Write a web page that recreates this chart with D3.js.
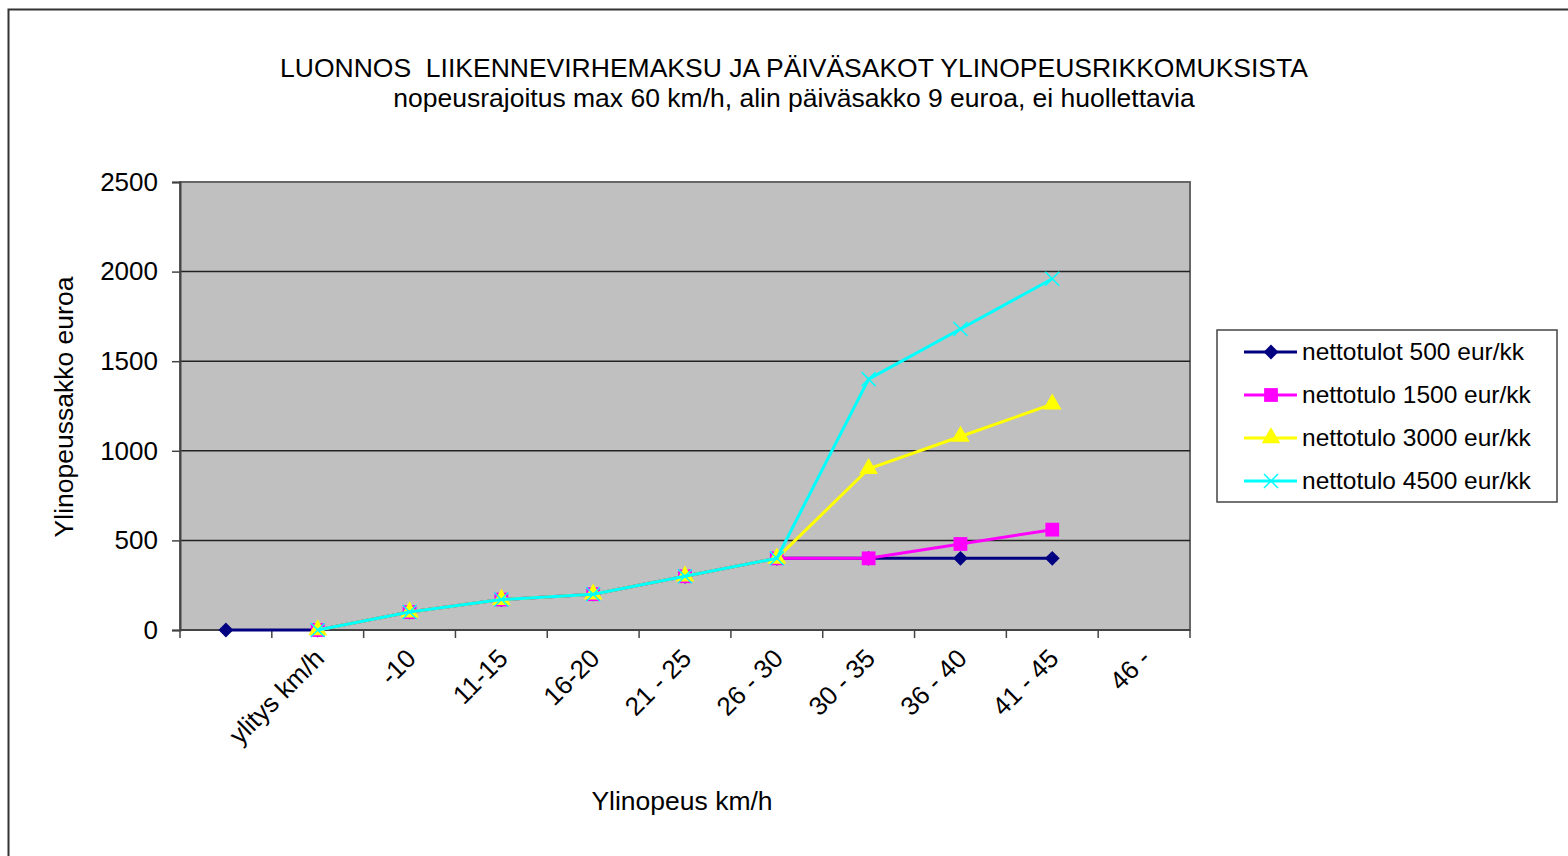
<!DOCTYPE html>
<html lang="en">
<head>
  <meta charset="utf-8">
  <title>Ylinopeussakot</title>
  <style>
    html, body { margin: 0; padding: 0; background: #ffffff; }
    svg { display: block; font-family: "Liberation Sans", Arial, sans-serif; }
  </style>
</head>
<body>
  <div id="chart"></div>

<script src="https://cdn.jsdelivr.net/npm/d3@7"></script>
<script>

  ////////////////////////////////////////////////// DATA

  var categories = ["", "ylitys km/h", "-10", "11-15", "16-20", "21 - 25", "26 - 30", "30 - 35", "36 - 40", "41 - 45", "46 -"];

  var seriesNames = ["nettotulot 500 eur/kk", "nettotulo 1500 eur/kk", "nettotulo 3000 eur/kk", "nettotulo 4500 eur/kk"];

  var tulot500  = [0,    0, 100, 170, 200, 300, 400, 400,  400,  400, null];
  var tulo1500  = [null, 0, 100, 170, 200, 300, 400, 400,  480,  560, null];
  var tulo3000  = [null, 0, 100, 170, 200, 300, 400, 900,  1080, 1260, null];
  var tulo4500  = [null, 0, 100, 170, 200, 300, 400, 1400, 1680, 1960, null];

  var yTicks = [0, 500, 1000, 1500, 2000, 2500];

  var seriesValues = [tulot500, tulo1500, tulo3000, tulo4500];
  var seriesColors = ["#000080", "#ff00ff", "#ffff00", "#00ffff"];
  var seriesMarkers = ["diamond", "square", "triangle", "cross"];

  ////////////////////////////////////////////////// SETUP

  var width = 1568, height = 856;
  var plot = {left: 180, top: 182, right: 1190, bottom: 630};

  var svg = d3.select("#chart").append("svg")
              .attr("width", width)
              .attr("height", height);

  // outer chart frame (runs off the right and bottom edge)
  svg.append("rect")
     .attr("x", 8.5).attr("y", 9.5)
     .attr("width", width + 20).attr("height", height + 20)
     .attr("fill", "#fff")
     .attr("stroke", "#333").attr("stroke-width", 2);

  var x = d3.scaleBand()
            .domain(d3.range(categories.length))
            .range([plot.left, plot.right]);

  var y = d3.scaleLinear()
            .domain([0, 2500])
            .range([plot.bottom, plot.top]);

  // plot background
  svg.append("rect")
     .attr("x", plot.left).attr("y", plot.top)
     .attr("width", plot.right - plot.left)
     .attr("height", plot.bottom - plot.top)
     .attr("fill", "#c0c0c0")
     .attr("stroke", "#666").attr("stroke-width", 2);

  // gridlines
  svg.append("g")
     .selectAll("line")
     .data(yTicks.slice(1, -1))
     .enter().append("line")
     .attr("x1", plot.left).attr("x2", plot.right)
     .attr("y1", function(d){ return y(d); })
     .attr("y2", function(d){ return y(d); })
     .attr("stroke", "#222").attr("stroke-width", 1.5);

  // y axis
  var yAxis = svg.append("g")
     .attr("transform", "translate(" + plot.left + ",0)")
     .call(d3.axisLeft(y).tickValues(yTicks).tickFormat(d3.format("d")).tickSize(8).tickPadding(14));
  yAxis.select(".domain").attr("stroke", "#444").attr("stroke-width", 2);
  yAxis.selectAll(".tick line").attr("stroke", "#444").attr("stroke-width", 1.5);
  yAxis.selectAll(".tick text")
       .attr("font-size", 26).attr("fill", "#000")
       .attr("font-family", "Liberation Sans, Arial, sans-serif");

  // x axis: ticks at band boundaries
  var xBounds = d3.range(categories.length + 1).map(function(i){
    return plot.left + i * x.step();
  });
  var xAxis = svg.append("g");
  xAxis.append("line")
       .attr("x1", plot.left).attr("x2", plot.right)
       .attr("y1", plot.bottom).attr("y2", plot.bottom)
       .attr("stroke", "#444").attr("stroke-width", 2);
  xAxis.selectAll(".xt")
       .data(xBounds)
       .enter().append("line")
       .attr("class", "xt")
       .attr("x1", function(d){ return d; }).attr("x2", function(d){ return d; })
       .attr("y1", plot.bottom).attr("y2", plot.bottom + 8)
       .attr("stroke", "#444").attr("stroke-width", 1.5);

  xAxis.selectAll(".xl")
       .data(categories)
       .enter().append("text")
       .attr("class", "xl")
       .attr("font-size", 26)
       .attr("text-anchor", "end")
       .attr("transform", function(d, i){
         var cx = x(i) + x.bandwidth() / 2 + 8;
         return "translate(" + cx + "," + (plot.bottom + 30) + ") rotate(-45)";
       })
       .text(function(d){ return d; });

  // lines
  var line = d3.line()
               .defined(function(d){ return d != null; })
               .x(function(d, i){ return x(i) + x.bandwidth() / 2; })
               .y(function(d){ return y(d); });

  var symbolSize = {diamond: 110, square: 190, triangle: 150, cross: 0};

  function drawMarker(g, type, color, cx, cy) {
    if (type === "cross") {
      var s = 7;
      g.append("path")
       .attr("d", "M" + (cx - s) + "," + (cy - s) + "L" + (cx + s) + "," + (cy + s) +
                  "M" + (cx - s) + "," + (cy + s) + "L" + (cx + s) + "," + (cy - s))
       .attr("stroke", color).attr("stroke-width", 1.5).attr("fill", "none");
      return;
    }
    var sym = type === "square" || type === "diamond" ? d3.symbolSquare : d3.symbolTriangle;
    g.append("path")
     .attr("d", d3.symbol().type(sym).size(symbolSize[type])())
     .attr("transform", "translate(" + cx + "," + cy + ")" + (type === "diamond" ? " rotate(45)" : ""))
     .attr("fill", color);
  }

  seriesValues.forEach(function(vals, s){
    var g = svg.append("g");
    g.append("path")
     .datum(vals)
     .attr("d", line)
     .attr("fill", "none")
     .attr("stroke", seriesColors[s])
     .attr("stroke-width", 3);
    vals.forEach(function(v, i){
      if (v == null) return;
      drawMarker(g, seriesMarkers[s], seriesColors[s], x(i) + x.bandwidth() / 2, y(v));
    });
  });

  // titles
  svg.append("text")
     .attr("x", 794).attr("y", 77)
     .attr("text-anchor", "middle").attr("font-size", 26.5)
     .style("white-space", "pre")
     .text("LUONNOS  LIIKENNEVIRHEMAKSU JA PÄIVÄSAKOT YLINOPEUSRIKKOMUKSISTA");
  svg.append("text")
     .attr("x", 794).attr("y", 107)
     .attr("text-anchor", "middle").attr("font-size", 26.5)
     .text("nopeusrajoitus max 60 km/h, alin päiväsakko 9 euroa, ei huollettavia");

  svg.append("text")
     .attr("x", 682).attr("y", 810)
     .attr("text-anchor", "middle").attr("font-size", 26.5)
     .text("Ylinopeus km/h");

  svg.append("text")
     .attr("transform", "translate(73,407) rotate(-90)")
     .attr("text-anchor", "middle").attr("font-size", 26.5)
     .text("Ylinopeussakko euroa");

  // legend
  var legend = svg.append("g").attr("transform", "translate(1217,330)");
  legend.append("rect")
        .attr("width", 340).attr("height", 172)
        .attr("fill", "#fff").attr("stroke", "#444").attr("stroke-width", 1.5);

  seriesNames.forEach(function(name, s){
    var ly = 22 + s * 43;
    legend.append("line")
          .attr("x1", 27).attr("x2", 80)
          .attr("y1", ly).attr("y2", ly)
          .attr("stroke", seriesColors[s]).attr("stroke-width", 3);
    drawMarker(legend, seriesMarkers[s], seriesColors[s], 54, ly);
    legend.append("text")
          .attr("x", 85).attr("y", ly + 8)
          .attr("font-size", 24.5)
          .text(name);
  });

</script>
</body>
</html>
